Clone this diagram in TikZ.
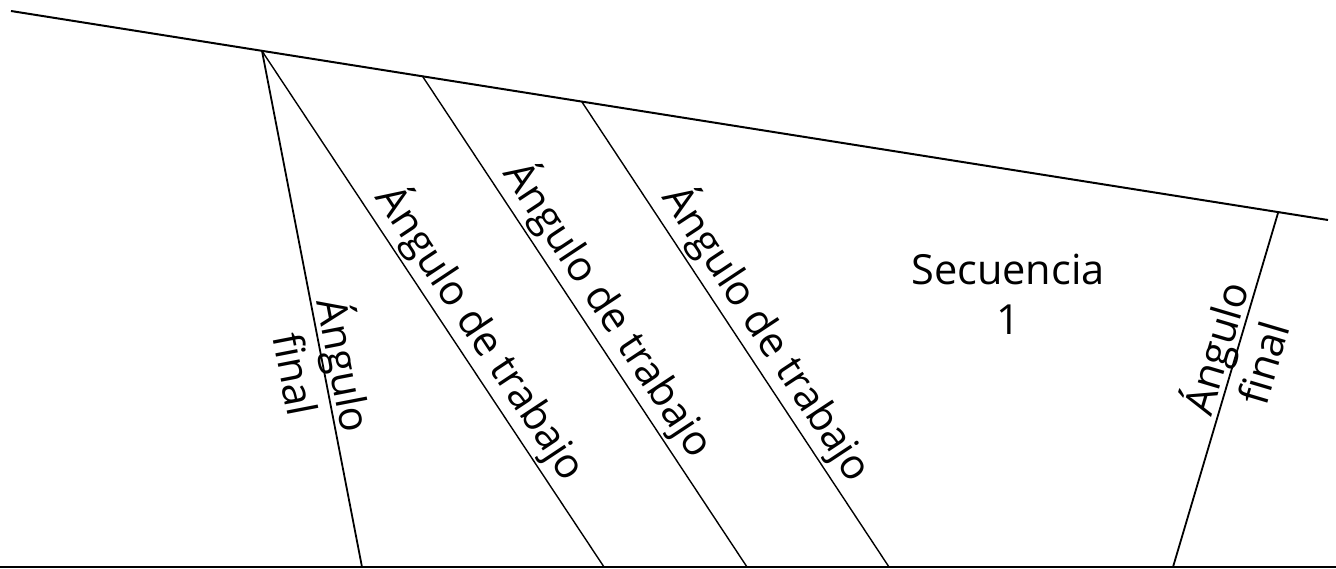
\documentclass[tikz,border=0pt]{standalone}
\usepackage{fontspec}
\setmainfont{Open Sans}
\begin{document}
\begin{tikzpicture}[x=1pt,y=-1pt,
  rim/.style={line width=2pt},
  edge/.style={line width=1.4pt},
  sideedge/.style={line width=1.8pt},
  lbl/.style={font=\fontsize{41.5}{50}\selectfont, inner sep=1pt},
  worklbl/.style={lbl, sloped, above, inner sep=2.5pt},
]
\useasboundingbox (0,0) rectangle (1336,569);
% outer rims
\coordinate (tl) at (11,11);
\coordinate (tr) at (1328,220);
\coordinate (bl) at (0,567);
\coordinate (br) at (1336,567);
% points on the upper rim
\coordinate (a) at (262,51);
\coordinate (b) at (423,77);
\coordinate (c) at (582,102);
\coordinate (d) at (1278,213);
% points on the lower rim
\coordinate (a1) at (362,567);
\coordinate (a2) at (604,567);
\coordinate (b1) at (747,567);
\coordinate (c1) at (889,567);
\coordinate (d1) at (1173,567);

\draw[rim] (tl) -- (tr);
\draw[rim] (bl) -- (br);

\draw[sideedge] (a) -- (a1)
  node[lbl, pos=0.616, sloped, align=center] (finL) {Ángulo\\final};
\draw[edge] (a) -- (a2)
  node[worklbl, pos=0.575] (work1) {Ángulo de trabajo};
\draw[edge] (b) -- (b1)
  node[worklbl, pos=0.504] (work2) {Ángulo de trabajo};
\draw[edge] (c) -- (c1)
  node[worklbl, pos=0.53] (work3) {Ángulo de trabajo};
\draw[sideedge] (d1) -- (d)
  node[lbl, pos=0.6, sloped, align=center] (finR) {Ángulo\\final};

\node[lbl, align=center] (seq) at (1008,294) {Secuencia\\1};
\end{tikzpicture}
\end{document}
